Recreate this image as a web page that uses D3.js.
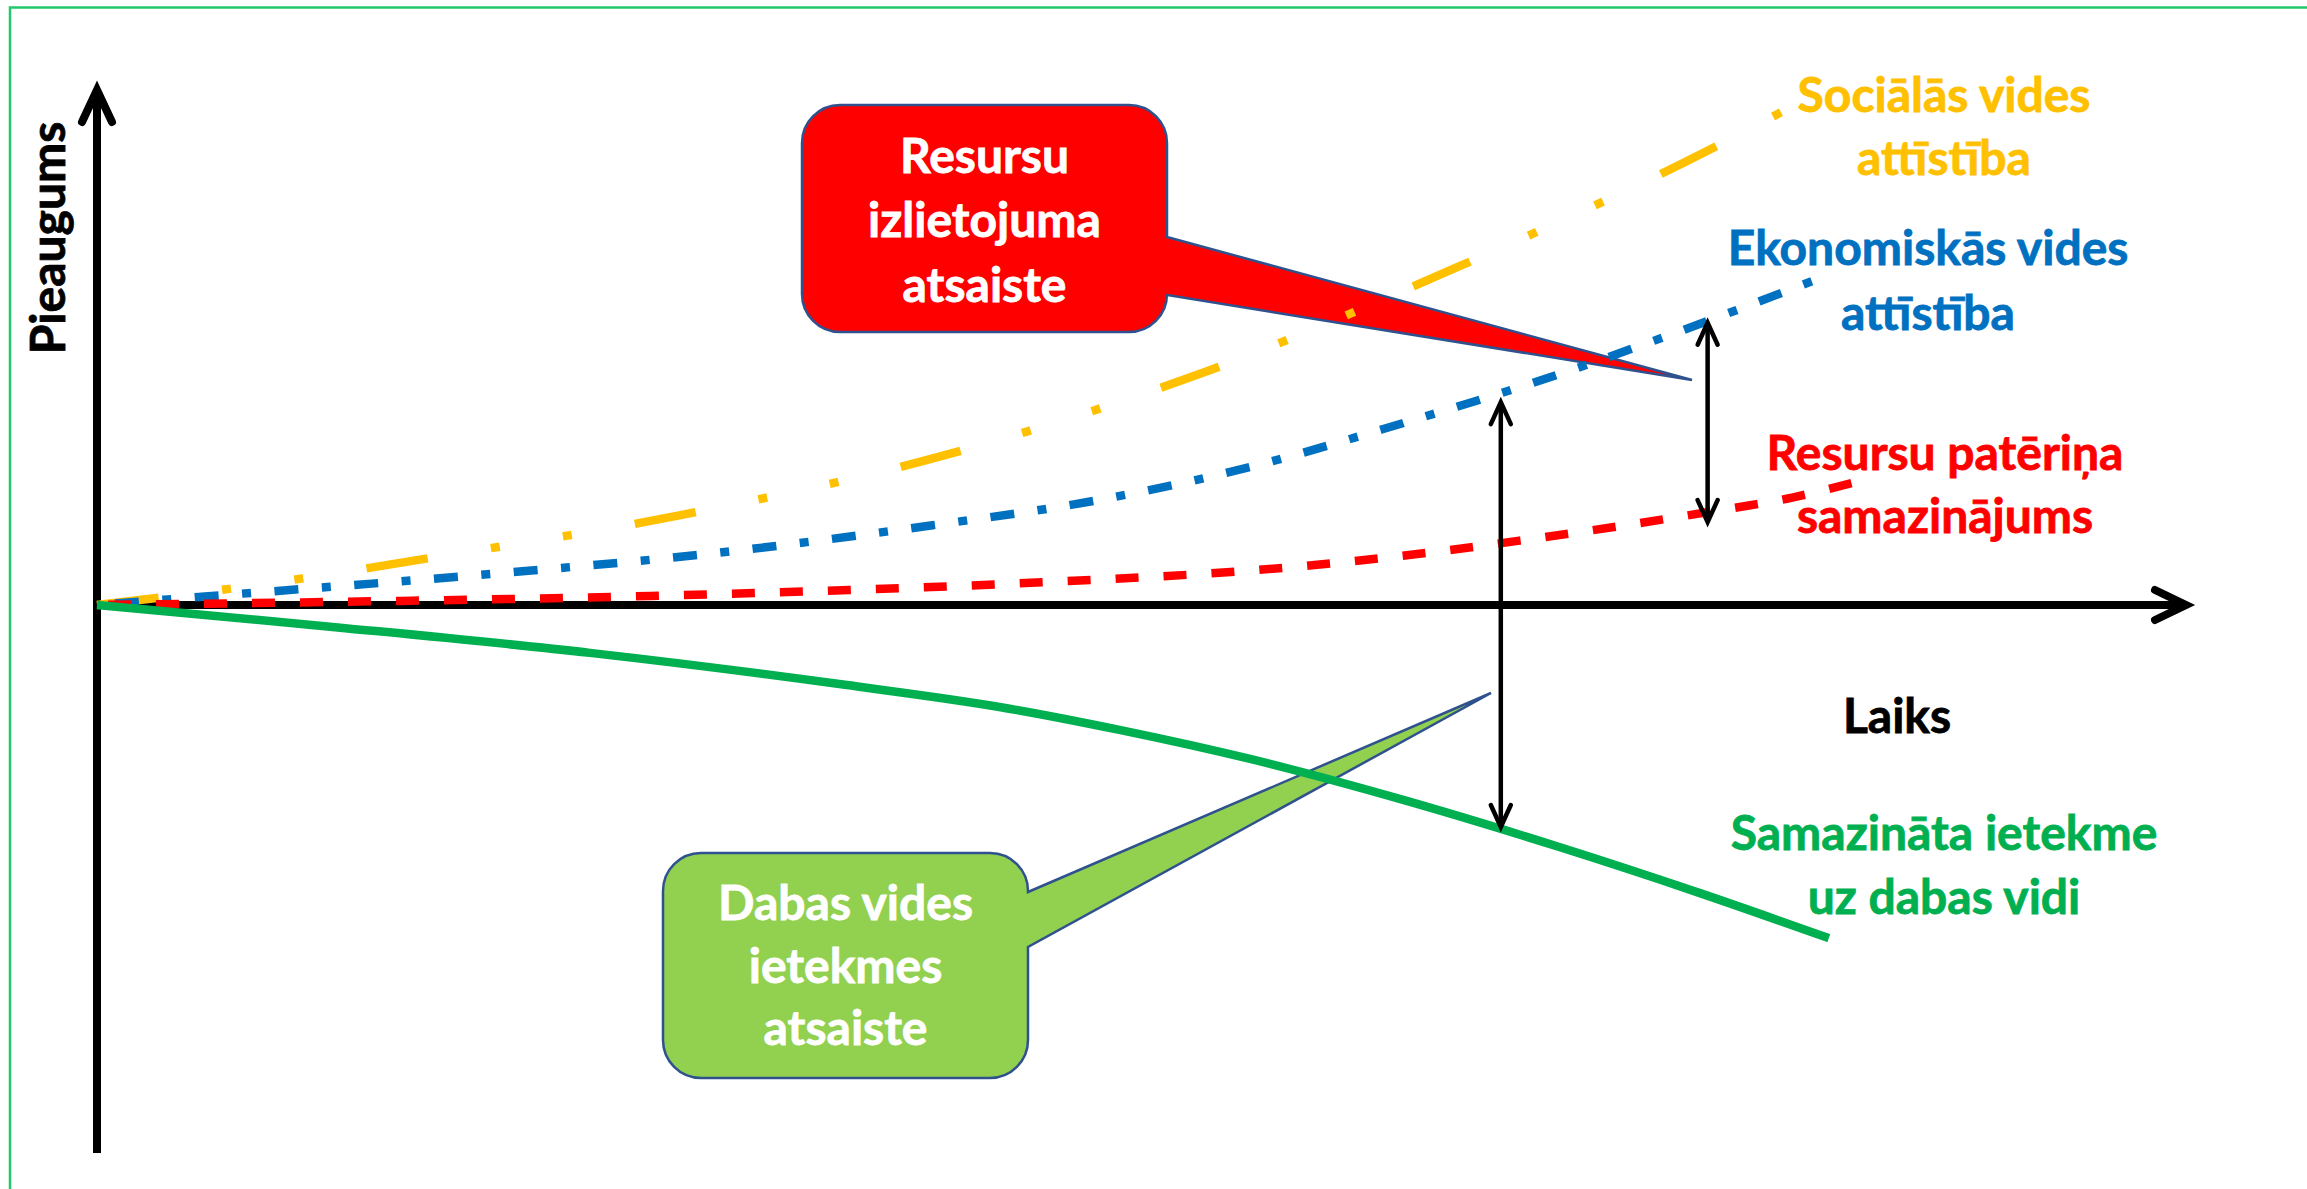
<!DOCTYPE html>
<html>
<head>
<meta charset="utf-8">
<script src="https://cdn.jsdelivr.net/npm/d3@7"></script>
<style>
  body { margin: 0; background: #fff; }
  svg { display: block; }
  text { font-family: Lato, "Open Sans", "Liberation Sans", sans-serif; font-weight: bold; }
</style>
</head>
<body>
<svg id="chart"></svg>
<script>
// time (0..100) and growth values
const socialT = [0, 7, 16.5, 28, 40.5, 53, 65, 77, 81];
const socialV = [0, 3.5, 9.5, 17.5, 29, 45.2, 65.4, 88, 96.5];

const economicT = [0, 5, 13, 20.5, 28.5, 40, 47.7, 55.2, 62.5, 69.9, 77, 82.1];
const economicV = [0, 1.6, 4.1, 6.6, 9.6, 15.5, 20.2, 26.8, 35.3, 44.7, 55, 62.9];

const resourceT = [0, 14.5, 26.5, 36, 44.7, 49.2, 53.9, 58.4, 63, 68.1, 72.7, 77.2, 81.2, 84];
const resourceV = [0, 0.8, 1.75, 2.9, 4.3, 5.2, 6.3, 7.8, 9.8, 12.5, 15.2, 18.1, 20.9, 23.7];

const natureT = [0, 11.4, 23.6, 35.8, 43.2, 49, 55.2, 62.4, 70, 76.7, 82.9];
const natureV = [0, -4.3, -9.3, -15.5, -19.8, -24.3, -29.9, -37.7, -47, -55.9, -64.7];

// double arrows: time, upper value, lower value
const gapArrows = [
    { t: 67.2, top: 39.4, bottom: -43.1 },
    { t: 77.1, top: 54.8, bottom: 16.1 }
];

const seriesLabels = [
    { lines: ["Sociālās vides", "attīstība"], color: "#FFC000", x: 1944, y: [112, 175] },
    { lines: ["Ekonomiskās vides", "attīstība"], color: "#0070C0", x: 1928, y: [265, 330] },
    { lines: ["Resursu patēriņa", "samazinājums"], color: "#FF0000", x: 1945, y: [470, 533] },
    { lines: ["Samazināta ietekme", "uz dabas vidi"], color: "#00B050", x: 1944, y: [850, 914] },
    { lines: ["Laiks"], color: "#000", x: 1897, y: [733] }
];

const callouts = [
    { lines: ["Resursu", "izlietojuma", "atsaiste"], fill: "#FF0000",
      box: [802, 105, 1167, 332], notch: [237, 295], tip: [1692, 380], textY: [173, 237, 302] },
    { lines: ["Dabas vides", "ietekmes", "atsaiste"], fill: "#92D050",
      box: [663, 853, 1028, 1078], notch: [892, 947], tip: [1491, 693], textY: [920, 983, 1045] }
];

const width = 2307, height = 1189;
const fontSize = 48;
const svg = d3.select("#chart").attr("width", width).attr("height", height);

// the original face is narrower than what we have: squeeze text horizontally
const probe = svg.append("text").attr("font-size", fontSize).text("Dabas vides");
const squeeze = Math.min(1, 260 / probe.node().getComputedTextLength());
probe.remove();

function addText(parent, tx, ty, str, color, extra = "") {
    return parent.append("text")
        .attr("transform", `translate(${tx},${ty}) ${extra} scale(${squeeze},1)`)
        .attr("text-anchor", "middle")
        .attr("font-size", fontSize)
        .attr("fill", color)
        .attr("stroke", color)
        .attr("stroke-width", 0.8)
        .text(str);
}

const x = d3.scaleLinear().domain([0, 100]).range([97, 2186]);
const y = d3.scaleLinear().domain([0, 100]).range([605, 90]);
const yBottom = -106.4;

// frame
svg.append("path")
    .attr("d", `M10,${height} V7.5 H${width}`)
    .attr("fill", "none")
    .attr("stroke", "#22C86A")
    .attr("stroke-width", 2.5);

// callouts (under the lines)
callouts.forEach(c => {
    const [x0, y0, x1, y1] = c.box;
    const r = 38;
    const d = `M${x0 + r},${y0} H${x1 - r} A${r},${r} 0 0 1 ${x1},${y0 + r}
        V${c.notch[0]} L${c.tip[0]},${c.tip[1]} L${x1},${c.notch[1]}
        V${y1 - r} A${r},${r} 0 0 1 ${x1 - r},${y1} H${x0 + r}
        A${r},${r} 0 0 1 ${x0},${y1 - r} V${y0 + r} A${r},${r} 0 0 1 ${x0 + r},${y0} Z`;
    svg.append("path")
        .attr("d", d)
        .attr("fill", c.fill)
        .attr("stroke", "#2F528F")
        .attr("stroke-width", 2.5);
    c.lines.forEach((line, i) => addText(svg, (x0 + x1) / 2, c.textY[i], line, "#fff"));
});

// axes with open arrow heads
const axes = svg.append("g")
    .attr("stroke", "#000")
    .attr("stroke-width", 8)
    .attr("fill", "none");

axes.append("line")
    .attr("x1", x(0)).attr("y1", y(yBottom))
    .attr("x2", x(0)).attr("y2", y(100) + 2);
axes.append("path")
    .attr("d", `M${x(0) - 15},${y(100) + 32} L${x(0)},${y(100)} L${x(0) + 15},${y(100) + 32}`)
    .attr("stroke-linecap", "round");

axes.append("line")
    .attr("x1", x(0) - 4).attr("y1", y(0))
    .attr("x2", x(100) - 2).attr("y2", y(0));
axes.append("path")
    .attr("d", `M${x(100) - 31},${y(0) - 15} L${x(100)},${y(0)} L${x(100) - 31},${y(0) + 15}`)
    .attr("stroke-linecap", "round");

// series lines
const line = d3.line()
    .x(d => x(d[0]))
    .y(d => y(d[1]))
    .curve(d3.curveMonotoneX);

const series = [
    { t: socialT, v: socialV, color: "#FFC000", dash: "62 64 9 64 9 64", offset: 0 },
    { t: economicT, v: economicV, color: "#0070C0", dash: "24 23.5 9 23.5", offset: 62 },
    { t: resourceT, v: resourceV, color: "#FF0000", dash: "23 25", offset: 37 },
    { t: natureT, v: natureV, color: "#00B050", dash: null, offset: 0 }
];

series.forEach(s => {
    svg.append("path")
        .datum(d3.zip(s.t, s.v))
        .attr("d", line)
        .attr("fill", "none")
        .attr("stroke", s.color)
        .attr("stroke-width", 8.5)
        .attr("stroke-dasharray", s.dash)
        .attr("stroke-dashoffset", s.offset);
});

// gap arrows
gapArrows.forEach(a => {
    const g = svg.append("g")
        .attr("stroke", "#000")
        .attr("stroke-width", 4.5)
        .attr("fill", "none")
        .attr("stroke-linecap", "round");
    const ax = x(a.t), yt = y(a.top), yb = y(a.bottom);
    g.append("line").attr("x1", ax).attr("y1", yt + 2).attr("x2", ax).attr("y2", yb - 2);
    g.append("path").attr("d", `M${ax - 10},${yt + 22} L${ax},${yt} L${ax + 10},${yt + 22}`);
    g.append("path").attr("d", `M${ax - 10},${yb - 22} L${ax},${yb} L${ax + 10},${yb - 22}`);
});

// labels
seriesLabels.forEach(l => {
    l.lines.forEach((txt, i) => addText(svg, l.x, l.y[i], txt, l.color));
});

addText(svg, 65, 238, "Pieaugums", "#000", "rotate(-90)");
</script>
</body>
</html>
